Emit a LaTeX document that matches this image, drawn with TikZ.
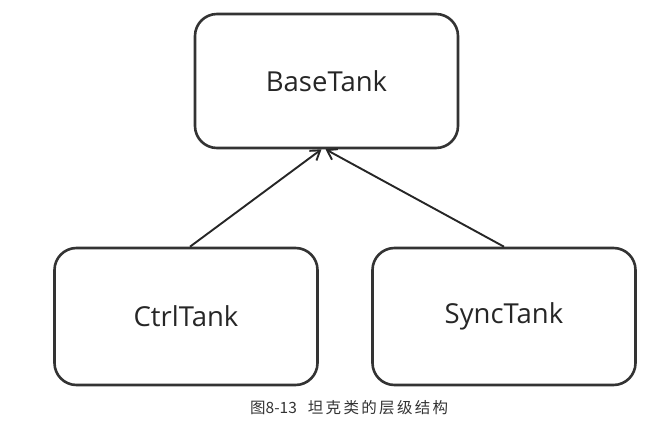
\documentclass[tikz,border=0pt]{standalone}
\usepackage{fontspec}
\setmainfont{Open Sans}
\newfontfamily\cjk{Noto Sans CJK SC}
\newfontfamily\cjkwide[LetterSpace=15]{Noto Sans CJK SC}
\usetikzlibrary{arrows.meta}

\begin{document}
\begin{tikzpicture}[x=1pt, y=-1pt,
    tankbox/.style={draw=black!80, line width=2.6pt, rounded corners=22pt, minimum width=263pt, minimum height=134pt, text=black!85, font=\fontsize{27.5}{32}\selectfont},
    inherit/.style={-{Straight Barb[length=9pt, width=12pt]}, line width=1.9pt, draw=black!85}]
%		    \draw[help lines] (0,0) grid (670,423);
			\useasboundingbox (0,0) rectangle (670,423);
			\node[tankbox] (base) at (326.5,81) {BaseTank};
			\node[tankbox, minimum height=137pt] (ctrl) at (186,316.5) {CtrlTank};
			\node[tankbox, minimum height=137pt] (sync) at (504,316.5) {SyncTank};
			\node[anchor=west, inner sep=0pt, font=\fontsize{15.5}{17}\selectfont, text=black!80] (caption) at (250,408) {\cjk 图8-13\hspace{11pt}\cjkwide 坦克类的层级结构};
			\draw[inherit] ([xshift=4pt]ctrl.north) -- ([xshift=-5pt]base.south);
			\draw[inherit] (sync.north) -- ([xshift=-1pt]base.south);
		\end{tikzpicture}
\end{document}
